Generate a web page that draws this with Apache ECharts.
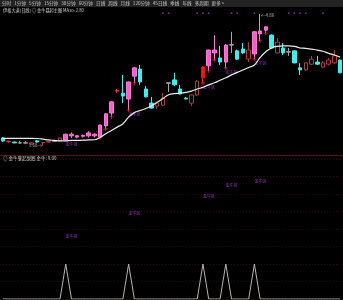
<!DOCTYPE html>
<html><head><meta charset="utf-8">
<script src="https://cdn.jsdelivr.net/npm/echarts@6/dist/echarts.min.js"></script>
<style>html,body{margin:0;padding:0;background:#000;}#c{width:343px;height:300px;}</style>
</head><body><div id="c"></div>
<script>
const categories = ['1','2','3','4','5','6','7','8','9','10','11','12','13','14','15','16','17','18','19','20','21','22','23','24','25','26','27','28','29','30','31','32','33','34','35','36','37','38','39','40','41','42','43','44','45','46','47','48','49','50','51','52','53','54','55','56','57','58','59','60'];
// [open, close, low, high]
const candles = [
[1.868,1.796,1.771,1.892],[1.78,1.79,1.75,1.80],[1.77,1.75,1.74,1.78],[1.745,1.75,1.745,1.80],[1.745,1.75,1.74,1.79],
[1.72,1.75,1.71,1.76],[1.80,1.77,1.76,1.81],[1.75,1.76,1.68,1.77],[1.77,1.78,1.76,1.79],[1.79,1.80,1.78,1.81],
[1.80,1.87,1.78,1.88],[1.82,1.96,1.80,1.97],[1.92,1.96,1.87,2.00],[1.89,1.92,1.86,1.94],[1.91,1.93,1.88,1.95],
[1.92,1.99,1.88,2.03],[1.92,1.96,1.88,1.98],[1.89,2.18,1.87,2.19],[2.16,2.45,2.085,2.46],[2.47,2.74,2.375,2.75],
[3.00,3.01,2.96,3.05],[2.95,2.88,2.71,3.39],[2.81,3.22,2.54,3.23],[3.36,3.56,3.195,3.58],[3.53,3.22,3.15,3.63],
[3.05,2.86,2.85,3.12],[2.71,2.59,2.57,2.86],[2.64,2.71,2.57,2.72],[2.66,2.83,2.64,2.95],[3.19,3.20,2.98,3.20],
[3.27,3.15,3.12,3.44],[3.05,2.93,2.92,3.15],[2.83,2.81,2.80,2.86],[2.71,2.905,2.64,2.92],[2.905,3.24,2.88,3.26],
[3.32,3.58,3.195,3.60],[3.61,3.99,3.485,4.00],[3.92,3.99,3.75,4.35],[3.80,3.70,3.63,4.09],[3.70,4.11,3.557,4.13],
[4.11,4.12,3.92,4.43],[3.97,3.77,3.75,4.00],[4.015,3.92,3.90,4.16],[3.774,3.99,3.70,4.18],[3.895,4.43,3.774,4.45],
[4.38,4.45,4.21,4.86],[4.47,4.55,4.40,4.57],[4.35,4.04,4.03,4.37],[3.92,4.18,3.91,4.28],[4.04,3.92,3.87,4.16],
[3.94,3.95,3.85,4.04],[3.97,3.68,3.67,3.98],[3.56,3.51,3.39,3.68],[3.51,3.68,3.49,3.69],[3.65,3.77,3.63,3.85],
[3.70,3.65,3.63,3.85],[3.58,3.68,3.56,3.72],[3.65,3.75,3.62,3.80],[3.68,3.85,3.66,3.99],[3.75,3.44,3.43,3.76]
];
// c=cyan down, h=hollow red up, p=pink, s=solid red, g=gray doji, x=red cross
const candleKinds = ['c','x','c','g','g','h','c','h','h','g','h','p','p','p','p','p','p','p','p','p','x','c','p','p','c','c','c','h','h','g','c','c','c','h','h','s','p','p','c','p','g','c','c','h','p','p','p','c','h','c','g','c','c','h','h','c','h','h','h','c'];
const ma10 = [1.86,1.86,1.86,1.86,1.86,1.86,1.855,1.84,1.82,1.81,1.80,1.80,1.81,1.81,1.815,1.82,1.825,1.88,1.97,2.05,
2.13,2.21,2.37,2.48,2.53,2.58,2.64,2.73,2.82,2.91,2.94,2.95,2.97,3.00,3.05,3.09,3.15,3.20,3.26,3.32,
3.39,3.45,3.51,3.57,3.63,3.81,3.95,4.04,4.08,4.09,4.09,4.08,4.04,4.03,4.01,3.99,3.96,3.91,3.87,3.82];
const signal = [0,0,0,0,0,0,0,0,0,0,0,1,0,0,0,0,0,0,0,0,0,0,1,0,0,0,0,0,0,0,0,0,0,0,0,1,0,0,0,1,0,0,0,0,1,0,0,0,0,0,0,0,0,0,0,0,0,0,0,0];
const signalIdx = [11,22,35,39,44];
const subLabelVals = [1.8,2.43,2.94,3.23,3.37];
const crossIdx = [17,18,19,22,23,35,36,37,39,44,45,46];
const topDotIdx = [28,29,34,35,36,40,41,44,50,51,52,53,56];
const highIdx = 45, lowIdx = 7;
const zoneText = '金牛区';
const periodTabs = ['分时','1分钟','5分钟','15分钟','30分钟','60分钟','日线','周线','月线','120分钟','45日线','季线','年线','多周期','更多 >'];
const activeTab = '日线';
const titleText = '伊格大道(日线) ◎ 金牛暴起主图 MA10: 2.80';
const subTitleText = '◎ 金牛暴起副图 金牛: 0.00';

const FONT = '"Noto Sans CJK SC"';
const kindStyle = {
  c:{color:'#3cf0f0',color0:'#3cf0f0',borderColor:'#3cf0f0',borderColor0:'#3cf0f0'},
  h:{color:'#000',color0:'#000',borderColor:'#b03c3c',borderColor0:'#b03c3c'},
  p:{color:'#ff5ad2',color0:'#ff5ad2',borderColor:'#ff7ad8',borderColor0:'#ff7ad8'},
  s:{color:'#ff1010',color0:'#ff1010',borderColor:'#ff1010',borderColor0:'#ff1010'},
  g:{color:'#a8a8a8',color0:'#a8a8a8',borderColor:'#a8a8a8',borderColor0:'#a8a8a8'},
  x:{color:'#ff3030',color0:'#ff3030',borderColor:'#ff3030',borderColor0:'#ff3030'}
};
const candleData = candles.map((d,i)=>({value:d,itemStyle:Object.assign({borderWidth:1},kindStyle[candleKinds[i]])}));
const crossData = crossIdx.map(i=>[i,candles[i][2]]);
const zoneMain = signalIdx.map(i=>[i,candles[i][2]]);
const zoneSub = signalIdx.map((i,k)=>[i,subLabelVals[k]]);
const yMainMin = 1.578, yMainMax = 4.908;
const topDots = topDotIdx.map(i=>[i,4.88]);

let rich = {a:{color:'#c8c8c8',fontSize:4.6,fontFamily:FONT},r:{color:'#ff3a3a',fontSize:4.6,fontFamily:FONT}};
let tabStr = periodTabs.map(t=> t===activeTab ? '{r|'+t+'}' : '{a|'+t+'}').join('{a|   }');

const chart = echarts.init(document.getElementById('c'),null,{renderer:'canvas'});
chart.setOption({
  backgroundColor:'#000',
  animation:false,
  grid:[{left:0,right:0,top:12,height:138},{left:0,right:0,top:159,bottom:1}],
  xAxis:[
    {type:'category',data:categories,gridIndex:0,boundaryGap:true,axisLine:{show:false},axisTick:{show:false},axisLabel:{show:false},splitLine:{show:false}},
    {type:'category',data:categories,gridIndex:1,boundaryGap:true,axisLine:{show:false},axisTick:{show:false},axisLabel:{show:false},splitLine:{show:false}}
  ],
  yAxis:[
    {type:'value',gridIndex:0,min:yMainMin,max:yMainMax,axisLine:{show:false},axisTick:{show:false},axisLabel:{show:false},splitLine:{show:false}},
    {type:'value',gridIndex:1,min:0,max:4,interval:0.5,axisLine:{show:false},axisTick:{show:false},axisLabel:{show:false},
     splitLine:{show:true,lineStyle:{color:'#2e0a0a',type:[1,2],width:1}}}
  ],
  series:[
    {type:'candlestick',xAxisIndex:0,yAxisIndex:0,data:candleData,barWidth:4},
    {type:'line',xAxisIndex:0,yAxisIndex:0,data:ma10,symbol:'none',smooth:true,lineStyle:{color:'#ececec',width:1.2}},
    {type:'scatter',xAxisIndex:0,yAxisIndex:0,data:crossData,symbol:'path://M2,0H3V2H5V3H3V5H2V3H0V2H2Z',symbolSize:4,itemStyle:{color:'#ff3030'}},
    {type:'scatter',xAxisIndex:0,yAxisIndex:0,data:topDots,symbol:'circle',symbolSize:1.8,itemStyle:{color:'#a030c0'}},
    {type:'scatter',xAxisIndex:0,yAxisIndex:0,data:zoneMain,symbolSize:0,
     label:{show:true,position:'right',distance:0,offset:[0,4],formatter:zoneText,color:'#c040f0',fontSize:4,fontFamily:FONT}},
    {type:'scatter',xAxisIndex:0,yAxisIndex:0,data:[[highIdx,candles[highIdx][3]]],symbolSize:0,
     label:{show:true,position:'right',distance:1,offset:[0,1],formatter:p=>'←'+p.value[1].toFixed(2),color:'#cfcfcf',fontSize:4.5,fontFamily:FONT}},
    {type:'scatter',xAxisIndex:0,yAxisIndex:0,data:[[lowIdx,candles[lowIdx][2]]],symbolSize:0,
     label:{show:true,position:'left',distance:1,formatter:p=>p.value[1].toFixed(2)+'→',color:'#cfcfcf',fontSize:4.5,fontFamily:FONT}},
    {type:'line',xAxisIndex:1,yAxisIndex:1,data:signal,symbol:'none',lineStyle:{color:'#b4b4b4',width:1}},
    {type:'scatter',xAxisIndex:1,yAxisIndex:1,data:zoneSub,symbolSize:0,
     label:{show:true,position:'right',distance:0,formatter:zoneText,color:'#c040f0',fontSize:4,fontFamily:FONT}}
  ],
  graphic:[
    {type:'rect',z:0,shape:{x:0,y:0,width:343,height:7},style:{fill:'#222222'},silent:true},
    {type:'text',z:10,x:2,y:1,style:{text:tabStr,rich:rich,fontSize:4.6,fontFamily:FONT,fill:'#c8c8c8'}},
    {type:'text',x:3,y:8.5,style:{text:titleText,fill:'#dadada',fontSize:4.2,fontFamily:FONT}},
    {type:'line',shape:{x1:0,y1:155.5,x2:343,y2:155.5},style:{stroke:'#5a1414',lineWidth:1}},
    {type:'text',x:3,y:156.5,style:{text:subTitleText,fill:'#dadada',fontSize:4.5,fontFamily:FONT}}
  ]
});
</script></body></html>
